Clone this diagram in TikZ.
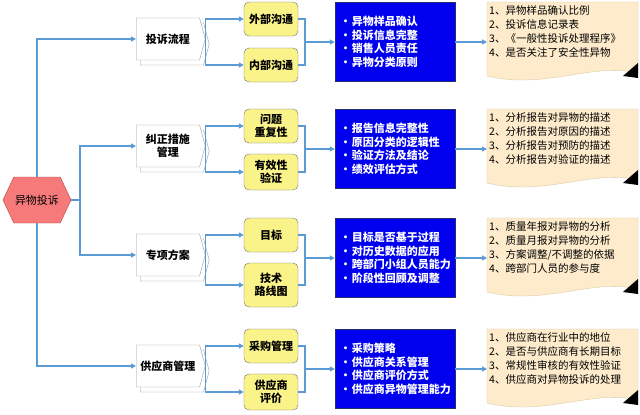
\documentclass[tikz,border=0pt]{standalone}
\usepackage{fontspec}
\setmainfont{Noto Sans CJK SC}
\usetikzlibrary{arrows.meta,positioning,calc,shapes.symbols,shadows}
\definecolor{LinkBlue}{HTML}{5B9BD5}
\definecolor{HexRed}{HTML}{F67A7A}
\definecolor{HexLine}{HTML}{B84A47}
\definecolor{StepGray}{HTML}{9A9A9A}
\definecolor{PadYellow}{HTML}{FAF38A}
\definecolor{PadLine}{HTML}{6F6F6F}
\definecolor{KeyBlue}{HTML}{0000EE}
\definecolor{KeyLine}{HTML}{1F2F6F}
\definecolor{NotePaper}{HTML}{FDEBCB}
\definecolor{NoteLine}{HTML}{DCC9A6}
\newcommand\dotitem[1]{\makebox[12pt][l]{\textbullet}#1}
\tikzset{
  link/.style={LinkBlue,line width=1.4pt},
  arr/.style={link,-{Triangle[length=5pt,width=5pt]}},
  topic/.style={signal,signal to=east,signal pointer angle=150,draw=StepGray,fill=white,
    minimum width=69pt,minimum height=42pt,inner sep=1pt,align=center,anchor=west,
    font=\fontsize{11}{13}\selectfont\bfseries,
    copy shadow={shadow xshift=4pt,shadow yshift=-5pt,draw=StepGray,fill=white}},
  pad/.style={draw=PadLine,fill=PadYellow,rounded corners=5pt,minimum width=54pt,
    minimum height=34pt,inner sep=1pt,align=center,font=\fontsize{11}{13}\selectfont\bfseries},
  keys/.style={draw=KeyLine,fill=KeyBlue,text=white,minimum width=120pt,minimum height=79pt,
    text width=110pt,inner sep=0pt,align=left,font=\fontsize{11}{13.5}\selectfont\bfseries},
  notetext/.style={anchor=north west,inner sep=0pt,align=left,
    font=\fontsize{10.5}{14}\selectfont}
}

\begin{document}
\begin{tikzpicture}[x=1pt,y=-1pt]
\useasboundingbox (0,0) rectangle (640,415);
\foreach \r in {42,149,258,369} {
  \draw[NoteLine,fill=NotePaper] (487,\r-40) -- (638,\r-40) -- (638,\r+31)
    .. controls (592,\r+20) and (545,\r+48) .. (487,\r+34) -- cycle;
  \fill[black] (623,\r+34) -- (638,\r+21) -- (638,\r+36) -- cycle;
}
\node[signal,signal to=west and east,signal pointer angle=130,draw=HexLine,fill=HexRed,
  minimum width=68pt,minimum height=46pt,inner sep=1pt,font=\fontsize{11}{13}\selectfont]
  (hex) at (37,200) {异物投诉};

\node[keys] (b1) at (395,42) {\dotitem{异物样品确认}\\\dotitem{投诉信息完整}\\\dotitem{销售人员责任}\\\dotitem{异物分类原则}};
\node[keys] (b2) at (395,149) {\dotitem{报告信息完整性}\\\dotitem{原因分类的逻辑性}\\\dotitem{验证方法及结论}\\\dotitem{绩效评估方式}};
\node[keys] (b3) at (395,258) {\dotitem{目标是否基于过程}\\\dotitem{对历史数据的应用}\\\dotitem{跨部门小组人员能力}\\\dotitem{阶段性回顾及调整}};
\node[keys] (b4) at (395,369) {\dotitem{采购策略}\\\dotitem{供应商关系管理}\\\dotitem{供应商评价方式}\\\dotitem{供应商异物管理能力}};

\node[notetext] (n1) at (489,5) {1、异物样品确认比例\\2、投诉信息记录表\\3、《一般性投诉处理程序》\\4、是否关注了安全性异物};
\node[notetext] (n2) at (489,112) {1、分析报告对异物的描述\\2、分析报告对原因的描述\\3、分析报告对预防的描述\\4、分析报告对验证的描述};
\node[notetext] (n3) at (489,221) {1、质量年报对异物的分析\\2、质量月报对异物的分析\\3、方案调整/不调整的依据\\4、跨部门人员的参与度};
\node[notetext] (n4) at (489,332) {1、供应商在行业中的地位\\2、是否与供应商有长期目标\\3、常规性审核的有效性验证\\4、供应商对异物投诉的处理};

\foreach \k/\r/\tp/\pa/\pb/\ob/\hb in {1/42/投诉流程/外部沟通/内部沟通/23/34,
  2/149/{纠正措施\\管理}/{问题\\重复性}/{有效性\\验证}/23/36,
  3/258/专项方案/目标/{技术\\路线图}/27/44,
  4/369/供应商管理/采购管理/{供应商\\评价}/23/36} {
  \node[topic] (t\k) at (136,\r-3) {\tp};
  \node[pad] (pa\k) at (271,\r-23) {\pa};
  \node[pad,minimum height=\hb pt] (pb\k) at (271,\r+\ob) {\pb};
  \coordinate (m\k) at (305,\r);
  \coordinate (e\k) at (487,\r);
  \draw[arr] (t\k.east) |- (pa\k.west);
  \draw[arr] (t\k.east) |- (pb\k.west);
  \draw[link] (pa\k.east) -| (m\k) |- (pb\k.east);
  \draw[arr] (m\k) -- (b\k.west);
  \draw[arr] (b\k.east) -- (e\k);
}

\coordinate (hr) at (80,200);
\draw[link] (hex.east) -- (hr);
\draw[arr] (hex.north) |- (t1.west);
\draw[arr] (hex.south) |- (t4.west);
\draw[arr] (hr) |- (t2.west);
\draw[arr] (hr) |- (t3.west);
\end{tikzpicture}
\end{document}
